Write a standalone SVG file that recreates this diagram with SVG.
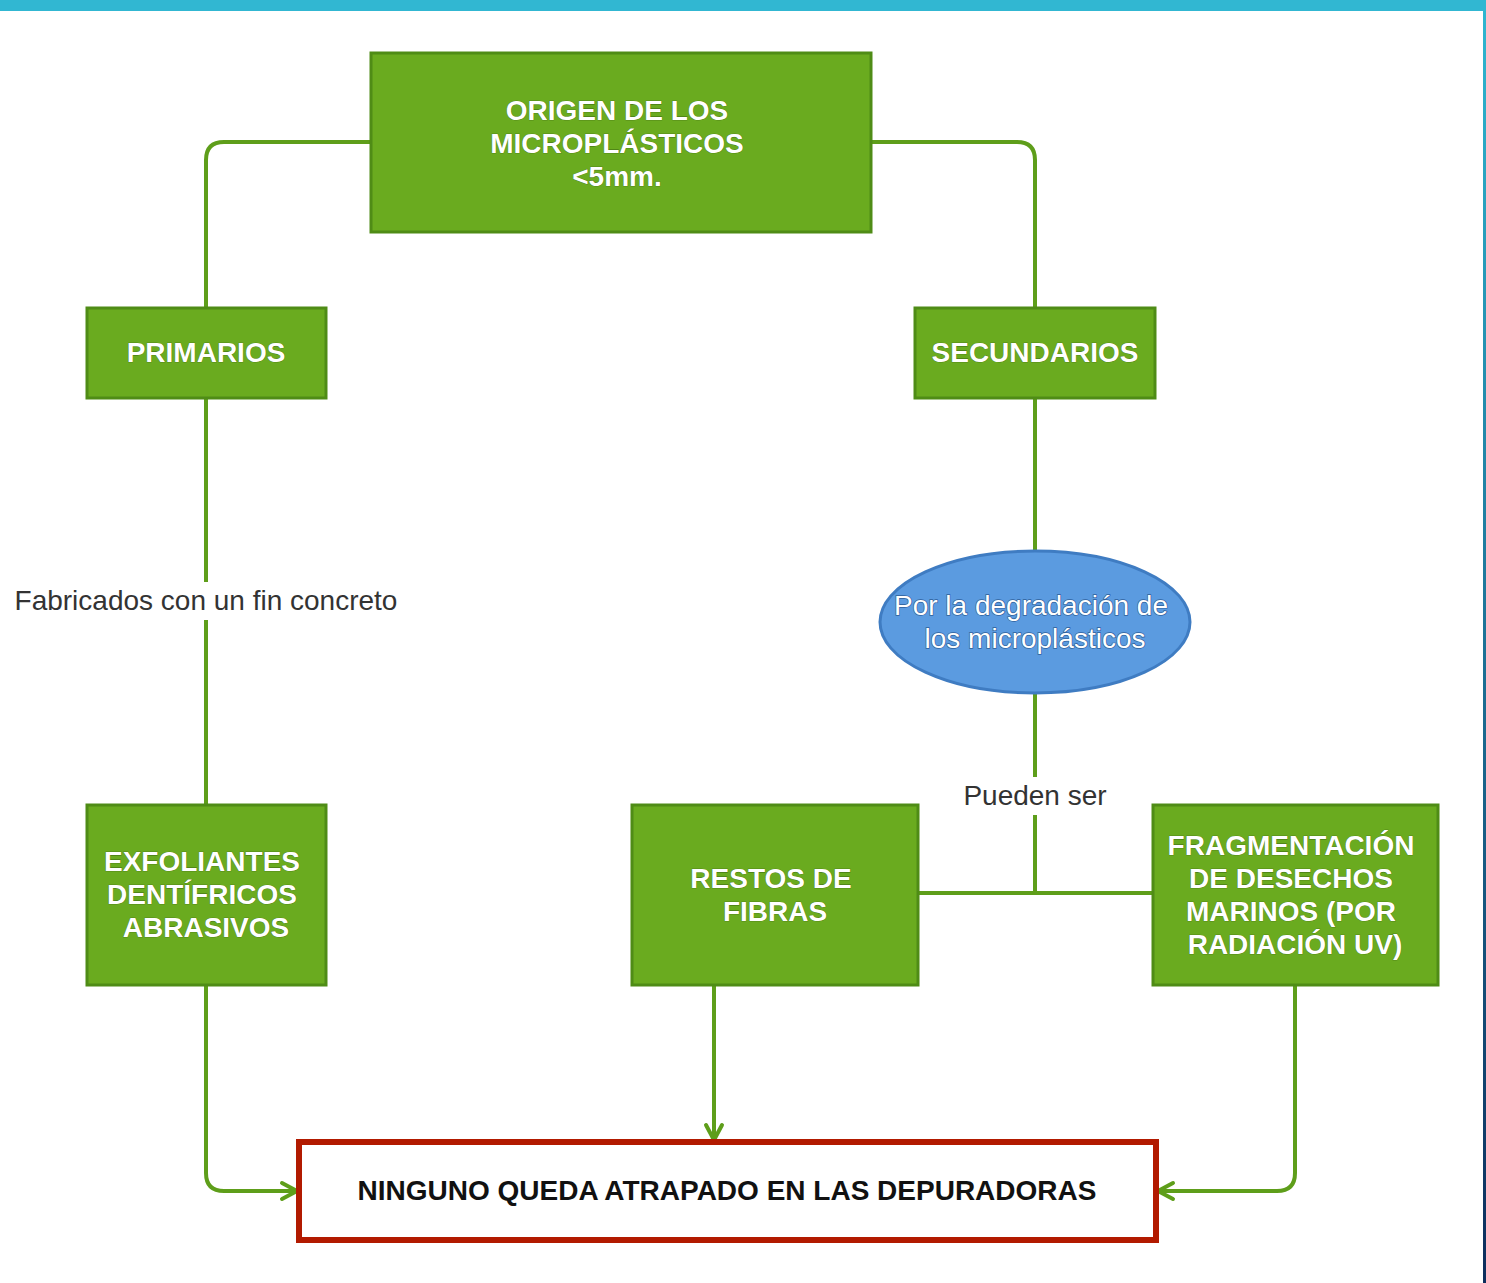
<svg xmlns="http://www.w3.org/2000/svg" width="1486" height="1283" viewBox="0 0 1486 1283">
<defs>
<style>
.box{fill:#6aab1f;stroke:#4f8c16;stroke-width:3}
.wt{font-family:"Liberation Sans",Arial,sans-serif;font-size:28px;font-weight:bold;fill:#ffffff;text-anchor:middle;stroke:#3d6a10;stroke-width:0.6;paint-order:stroke}
.lbl{font-family:"Liberation Sans",Arial,sans-serif;font-size:28px;fill:#333333;text-anchor:middle}
.con{fill:none;stroke:#5e9e1a;stroke-width:4}
</style>
<marker id="arr" viewBox="0 0 22 22" refX="19" refY="11" markerWidth="22" markerHeight="22" markerUnits="userSpaceOnUse" orient="auto">
<path d="M4,3 L19,11 L4,19" fill="none" stroke="#5e9e1a" stroke-width="4" stroke-linecap="round" stroke-linejoin="round"/>
</marker>
<linearGradient id="edge" x1="0" y1="0" x2="0" y2="1">
<stop offset="0" stop-color="#2fb6d0"/>
<stop offset="1" stop-color="#0d2d5c"/>
</linearGradient>
</defs>
<rect x="0" y="0" width="1486" height="1283" fill="#ffffff"/>
<rect x="0" y="0" width="1486" height="11" fill="#31b7d2"/>
<rect x="1483" y="11" width="3" height="1272" fill="url(#edge)"/>

<g id="connectors">
<path class="con" d="M371,142 H224 Q206,142 206,160 V308"/>
<path class="con" d="M871,142 H1017 Q1035,142 1035,160 V308"/>
<path class="con" d="M206,398 V805"/>
<path class="con" d="M1035,398 V551"/>
<path class="con" d="M1035,694 V893"/>
<path class="con" d="M918,893 H1153"/>
<path class="con" d="M206,985 V1173 Q206,1191 224,1191 H297" marker-end="url(#arr)"/>
<path class="con" d="M714,985 V1140" marker-end="url(#arr)"/>
<path class="con" d="M1295,985 V1173 Q1295,1191 1277,1191 H1158" marker-end="url(#arr)"/>
<rect x="10" y="582" width="394" height="38" fill="#ffffff"/>
<text class="lbl" x="206" y="610">Fabricados con un fin concreto</text>
<rect x="960" y="777" width="150" height="38" fill="#ffffff"/>
<text class="lbl" x="1035" y="805">Pueden ser</text>
</g>

<g id="origen">
<rect class="box" x="371" y="53" width="500" height="179"/>
<text class="wt" x="617" y="120">ORIGEN DE LOS</text>
<text class="wt" x="617" y="153">MICROPLÁSTICOS</text>
<text class="wt" x="617" y="186">&lt;5mm.</text>
</g>

<g id="primarios">
<rect class="box" x="87" y="308" width="239" height="90"/>
<text class="wt" x="206" y="362">PRIMARIOS</text>
</g>

<g id="secundarios">
<rect class="box" x="915" y="308" width="240" height="90"/>
<text class="wt" x="1035" y="362">SECUNDARIOS</text>
</g>

<g id="degradacion">
<ellipse cx="1035" cy="622" rx="155" ry="71" fill="#5b9be0" stroke="#3f7cc2" stroke-width="3"/>
<text class="wt" x="1031" y="615" style="font-weight:normal;stroke:#2f5f9a;stroke-width:1.4">Por la degradación de</text>
<text class="wt" x="1035" y="648" style="font-weight:normal;stroke:#2f5f9a;stroke-width:1.4">los microplásticos</text>
</g>

<g id="exfoliantes">
<rect class="box" x="87" y="805" width="239" height="180"/>
<text class="wt" x="202" y="871">EXFOLIANTES</text>
<text class="wt" x="202" y="904">DENTÍFRICOS</text>
<text class="wt" x="206" y="937">ABRASIVOS</text>
</g>

<g id="restos">
<rect class="box" x="632" y="805" width="286" height="180"/>
<text class="wt" x="771" y="888">RESTOS DE</text>
<text class="wt" x="775" y="921">FIBRAS</text>
</g>

<g id="fragmentacion">
<rect class="box" x="1153" y="805" width="285" height="180"/>
<text class="wt" x="1291" y="855">FRAGMENTACIÓN</text>
<text class="wt" x="1291" y="888">DE DESECHOS</text>
<text class="wt" x="1291" y="921">MARINOS (POR</text>
<text class="wt" x="1295" y="954">RADIACIÓN UV)</text>
</g>

<g id="ninguno">
<rect x="299" y="1142" width="857" height="98" fill="#ffffff" stroke="#b21a00" stroke-width="6"/>
<text x="727" y="1200" font-family="Liberation Sans, Arial, sans-serif" font-size="28" font-weight="bold" fill="#111111" text-anchor="middle">NINGUNO QUEDA ATRAPADO EN LAS DEPURADORAS</text>
</g>
</svg>
